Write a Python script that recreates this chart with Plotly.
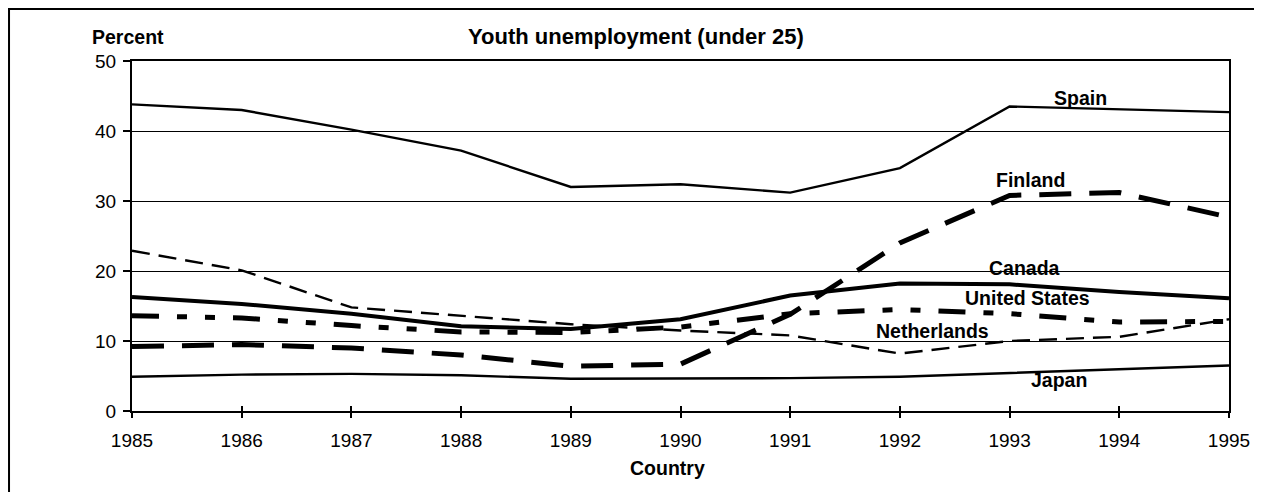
import plotly.graph_objects as go

# data
years = [1985, 1986, 1987, 1988, 1989, 1990, 1991, 1992, 1993, 1994, 1995]
spain = [43.8, 43.0, 40.2, 37.2, 32.0, 32.4, 31.2, 34.7, 43.5, 43.1, 42.7]
finland = [9.2, 9.5, 9.0, 8.0, 6.4, 6.7, 13.8, 24.0, 30.8, 31.2, 27.7]
canada = [16.3, 15.3, 13.9, 12.1, 11.7, 13.1, 16.5, 18.2, 18.1, 17.0, 16.1]
united_states = [13.6, 13.3, 12.2, 11.3, 11.2, 12.0, 13.9, 14.5, 13.9, 12.7, 12.8]
netherlands = [22.9, 20.1, 14.8, 13.6, 12.4, 11.5, 10.8, 8.2, 10.0, 10.6, 13.1]
japan = [4.9, 5.2, 5.3, 5.1, 4.6, 4.6, 4.7, 4.9, 5.4, 6.0, 6.5]

FONT = "Liberation Sans, Arial, sans-serif"

series = [
    ("Spain", spain, 2.4, "solid"),
    ("Japan", japan, 2.4, "solid"),
    ("Netherlands", netherlands, 2.4, "18px,9px"),
    ("United States", united_states, 5, "27px,18px,10px,18px,10px,18px"),
    ("Canada", canada, 4, "solid"),
    ("Finland", finland, 5, "32px,18px"),
]

# label spots (data coords)
label_pos = {
    "Spain": (1993.65, 44.7),
    "Finland": (1993.19, 33.0),
    "Canada": (1993.14, 20.5),
    "United States": (1993.16, 16.2),
    "Netherlands": (1992.3, 11.5),
    "Japan": (1993.45, 4.4),
}

fig = go.Figure()
for name, vals, w, dash in series:
    fig.add_trace(go.Scatter(
        x=years, y=vals, mode="lines", name=name,
        line=dict(color="black", width=w, dash=dash),
        showlegend=False, hoverinfo="skip",
    ))

for name, (lx, ly) in label_pos.items():
    fig.add_annotation(x=lx, y=ly, text="<b>%s</b>" % name, showarrow=False,
                       xanchor="center", yanchor="middle",
                       font=dict(family=FONT, size=19.5, color="black"))


def paper_text(txt, x, y, size):
    fig.add_annotation(xref="paper", yref="paper", x=x, y=y, text=txt,
                       showarrow=False, xanchor="center", yanchor="middle",
                       font=dict(family=FONT, size=size, color="black"))


paper_text("<b>Youth unemployment (under 25)</b>", 0.4594, 1.0686, 22)
paper_text("<b>Percent</b>", -0.0036, 1.0686, 19.5)
paper_text("<b>Country</b>", 0.4877, -0.1629, 19.5)

# outer frame
fig.add_shape(type="rect", xref="paper", yref="paper",
              x0=-0.1121, x1=1.0274, y0=-0.3, y1=1.1486,
              line=dict(color="black", width=2))

# the page body adds an 8px offset, so the figure is 8px smaller
fig.update_layout(
    width=1254, height=484,
    margin=dict(l=124, r=33, t=53, b=81),
    paper_bgcolor="white", plot_bgcolor="white",
    font=dict(family=FONT, size=19, color="black"),
    xaxis=dict(range=[1985, 1995], tickmode="array", tickvals=years,
               ticks="outside", ticklen=5, tickwidth=1.5, tickcolor="black",
               showgrid=False, showline=True, linecolor="black", linewidth=2,
               mirror=True, zeroline=False, ticklabelstandoff=6,
               tickfont=dict(size=19)),
    xaxis2=dict(range=[1985, 1995], overlaying="x", tickmode="array",
                tickvals=years, ticks="inside", ticklen=5, tickwidth=1.5,
                tickcolor="black", showticklabels=False, showgrid=False,
                showline=False, zeroline=False, side="bottom"),
    yaxis=dict(range=[0, 50], tickvals=[0, 10, 20, 30, 40, 50],
               ticks="outside", ticklen=7, tickwidth=1.5, tickcolor="black",
               showgrid=True, gridcolor="black", gridwidth=1.3,
               showline=True, linecolor="black", linewidth=2, mirror=True,
               zeroline=False, ticklabelstandoff=3, tickfont=dict(size=19)),
)
# invisible point so the inner tick axis is drawn
fig.add_trace(go.Scatter(x=[1985], y=[0], xaxis="x2", mode="markers",
                         marker=dict(opacity=0), showlegend=False,
                         hoverinfo="skip"))

fig.write_html("out.html")
